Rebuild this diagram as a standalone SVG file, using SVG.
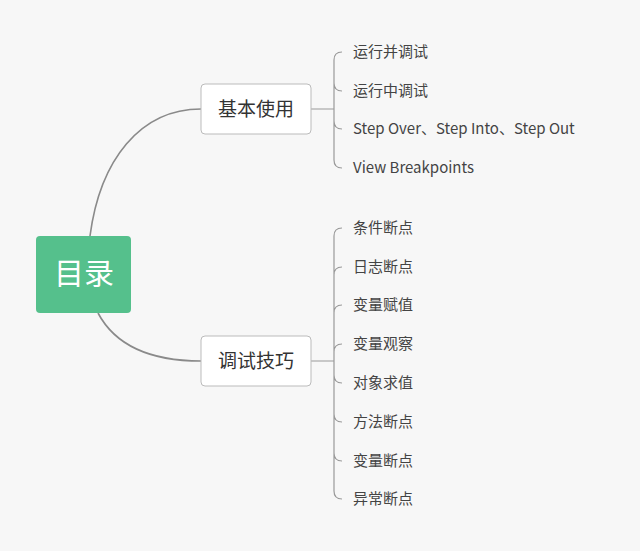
<svg xmlns="http://www.w3.org/2000/svg" width="640" height="551" viewBox="0 0 640 551">
<style>
.c{fill:none;stroke:#8a8a8a;stroke-width:1.6}
.b{fill:none;stroke:#999;stroke-width:1.2}
.t{font-family:"Noto Sans CJK SC","Noto Sans",sans-serif;font-size:15px;fill:#444}
.m{font-family:"Noto Sans CJK SC",sans-serif;font-size:19px;fill:#333;text-anchor:middle}
.n{fill:#fff;stroke:#bbb;stroke-width:1}
</style>
<rect width="640" height="551" fill="#f7f7f7"/>
<g id="connectors">
<path class="c" d="M90,236 C100,160 140,109 201,109"/>
<path class="c" d="M98,313 C115,345 150,361 201,361"/>
<path class="b" d="M311,109 H334 M334,109 V60 Q334,52 342,52 M334,83 Q334,91 342,91 M334,109 V121 Q334,129 342,129 M334,121 V160 Q334,168 342,168"/>
<path class="b" d="M311,361 H334 M334,361 V236 Q334,228 342,228 M334,275 Q334,267 342,267 M334,313 Q334,305 342,305 M334,352 Q334,344 342,344 M334,361 V491 Q334,499 342,499 M334,375 Q334,383 342,383 M334,414 Q334,422 342,422 M334,453 Q334,461 342,461"/>
</g>
<g id="root"><rect x="36" y="236" width="95" height="77" rx="4" fill="#55c08c"/><text x="84" y="284" font-family="Noto Sans CJK SC,sans-serif" font-size="30" fill="#fff" text-anchor="middle">目录</text></g>
<g id="n1"><rect class="n" x="201" y="84" width="110" height="50" rx="4"/><text class="m" x="256" y="116">基本使用</text></g>
<g id="n2"><rect class="n" x="201" y="336" width="110" height="50" rx="4"/><text class="m" x="256" y="368">调试技巧</text></g>
<g id="leaves1">
<text class="t" x="353" y="57">运行并调试</text>
<text class="t" x="353" y="96">运行中调试</text>
<text class="t" x="353" y="134">Step Over、Step Into、Step Out</text>
<text class="t" x="353" y="173">View Breakpoints</text>
</g>
<g id="leaves2">
<text class="t" x="353" y="233">条件断点</text>
<text class="t" x="353" y="272">日志断点</text>
<text class="t" x="353" y="310">变量赋值</text>
<text class="t" x="353" y="349">变量观察</text>
<text class="t" x="353" y="388">对象求值</text>
<text class="t" x="353" y="427">方法断点</text>
<text class="t" x="353" y="466">变量断点</text>
<text class="t" x="353" y="504">异常断点</text>
</g>
</svg>
